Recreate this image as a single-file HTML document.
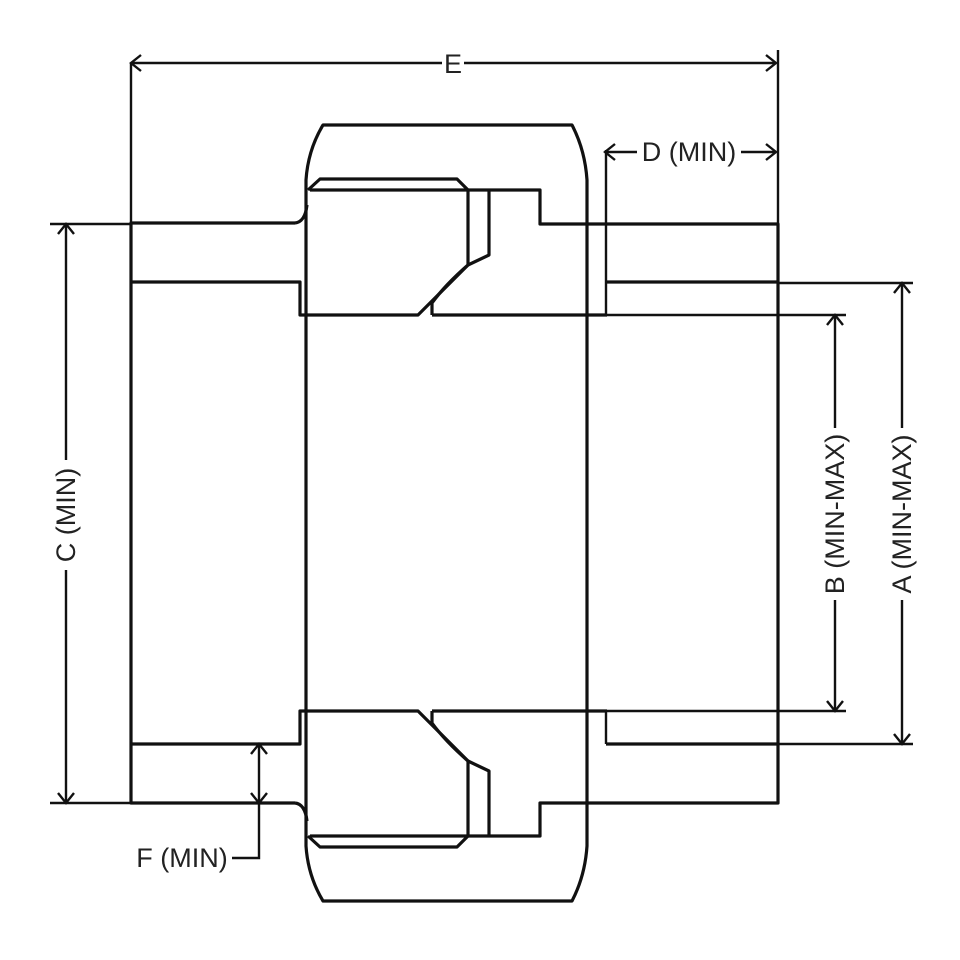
<!DOCTYPE html>
<html><head><meta charset="utf-8"><style>html,body{margin:0;padding:0;background:#fff}svg{display:block}</style></head>
<body>
<svg width="960" height="960" viewBox="0 0 960 960" xmlns="http://www.w3.org/2000/svg">
<g fill="none" stroke="#111" stroke-width="3.2" stroke-linejoin="round">
<path d="M295,223 H131 V803 H295"/>
<path d="M131,282 H300 V315 H418 L468,265 V190"/>
<path d="M131,744 H300 V711 H418 L468,761 V836"/>
<path d="M607,224 H778 V803 H540 V836 H310"/>
<path d="M607,224 H540 V190 H310"/>
<path d="M432,315 H607 M432,711 H607"/>
<path d="M489,190 V255 L468,265 Q445,285 432,303 V315"/>
<path d="M489,836 V771 L468,761 Q445,741 432,723 V711"/>
<path d="M606,282 H778 M606,744 H778"/>
<path d="M295,223 Q305,222 307,205"/>
<path d="M295,803 Q305,804 307,821"/>
<path d="M323,125 H572 Q585,150 587,180 V846 Q585,876 572,901 H323 Q308,876 306,846 V180 Q308,150 323,125 Z"/>
<path d="M308,190 L320,179 H457 L468,190"/>
<path d="M308,836 L320,847 H457 L468,836"/>
</g>
<g fill="none" stroke="#111" stroke-width="2.4">
<path d="M606,150 V315 M606,711 V744"/>
<path d="M131,63 V223 M778,50 V223"/>
<path d="M131,63 H442 M464,63 H776"/>
<path d="M141,55 L131,63 L141,71 M766,55 L776,63 L766,71"/>
<path d="M605,152 H637 M741,152 H776"/>
<path d="M615,144 L605,152 L615,160 M766,144 L776,152 L766,160"/>
<path d="M50,224 H131 M50,803 H131"/>
<path d="M66,224 V460 M66,570 V803"/>
<path d="M58,234 L66,224 L74,234 M58,793 L66,803 L74,793"/>
<path d="M607,315 H846 M607,711 H846"/>
<path d="M835,315 V428 M835,600 V711"/>
<path d="M827,325 L835,315 L843,325 M827,701 L835,711 L843,701"/>
<path d="M778,283 H913 M778,744 H913"/>
<path d="M902,283 V428 M902,600 V744"/>
<path d="M894,293 L902,283 L910,293 M894,734 L902,744 L910,734"/>
<path d="M259,744 V858 H232"/>
<path d="M251,754 L259,744 L267,754 M251,793 L259,803 L267,793"/>
</g>
<g font-family="Liberation Sans, DejaVu Sans, sans-serif" font-size="27" fill="#222" text-anchor="middle" dominant-baseline="central">
<text x="453" y="64">E</text>
<text x="689" y="152">D (MIN)</text>
<text x="182" y="858">F (MIN)</text>
<text transform="translate(66,515) rotate(-90)">C (MIN)</text>
<text transform="translate(835,514) rotate(-90)">B (MIN-MAX)</text>
<text transform="translate(902,514) rotate(-90)">A (MIN-MAX)</text>
</g>
</svg>
</body></html>
